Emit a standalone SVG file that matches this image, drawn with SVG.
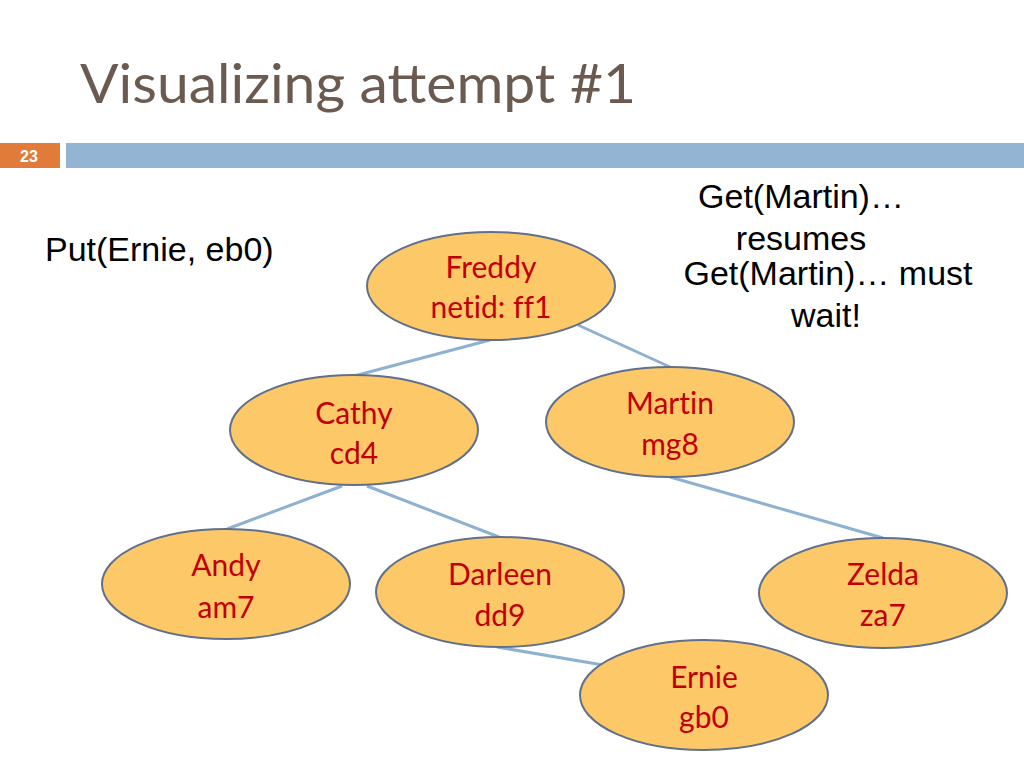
<svg xmlns="http://www.w3.org/2000/svg" width="1024" height="768" viewBox="0 0 1024 768">
<style>
.node ellipse{fill:#FDC968;stroke:#60708A;stroke-width:2}
.node text{font-family:Lato,"Noto Sans",sans-serif;font-size:30px;fill:#C00000;text-anchor:middle;font-variant-ligatures:none}
.edge{stroke:#8FB1D0;stroke-width:3;fill:none}
.note{font-family:"Liberation Sans",Arial,sans-serif;font-size:34px;fill:#000;text-anchor:middle}
</style>
<rect width="1024" height="768" fill="#fff"/>
<text x="80" y="103" font-family="Lato,'Noto Sans',sans-serif" font-size="54" fill="#6B5A4F" textLength="556" lengthAdjust="spacingAndGlyphs">Visualizing attempt #1</text>
<rect x="0" y="143" width="60" height="25" fill="#E07B39"/>
<rect x="66" y="143" width="958" height="25" fill="#93B5D3"/>
<text x="29" y="162" font-family="'Liberation Sans',Arial,sans-serif" font-size="16" font-weight="bold" fill="#fff" text-anchor="middle">23</text>
<g id="connectors">
<line class="edge" x1="490" y1="340" x2="354" y2="376"/>
<line class="edge" x1="578" y1="325" x2="670" y2="367"/>
<line class="edge" x1="342" y1="486" x2="227" y2="529"/>
<line class="edge" x1="367" y1="486" x2="499" y2="537"/>
<line class="edge" x1="670" y1="477" x2="883" y2="538"/>
<line class="edge" x1="497" y1="647" x2="603" y2="665"/>
</g>
<g id="freddy" class="node"><ellipse cx="491" cy="286" rx="124" ry="54"/><text x="491" y="278">Freddy</text><text x="491" y="318">netid: ff1</text></g>
<g id="cathy" class="node"><ellipse cx="354" cy="430" rx="124" ry="55"/><text x="354" y="424">Cathy</text><text x="354" y="464">cd4</text></g>
<g id="martin" class="node"><ellipse cx="670" cy="422" rx="124" ry="55"/><text x="670" y="414">Martin</text><text x="670" y="455">mg8</text></g>
<g id="andy" class="node"><ellipse cx="226" cy="584" rx="124" ry="55"/><text x="226" y="576">Andy</text><text x="226" y="618">am7</text></g>
<g id="darleen" class="node"><ellipse cx="500" cy="592" rx="124" ry="55"/><text x="500" y="585">Darleen</text><text x="500" y="626">dd9</text></g>
<g id="zelda" class="node"><ellipse cx="883" cy="593" rx="124" ry="55"/><text x="883" y="585">Zelda</text><text x="883" y="626">za7</text></g>
<g id="ernie" class="node"><ellipse cx="704" cy="695" rx="124" ry="55"/><text x="704" y="688">Ernie</text><text x="704" y="728">gb0</text></g>
<text x="45" y="261" font-family="'Liberation Sans',Arial,sans-serif" font-size="34" fill="#000">Put(Ernie, eb0)</text>
<text class="note" x="801" y="208">Get(Martin)…</text>
<text class="note" x="801" y="250">resumes</text>
<text class="note" x="828" y="285">Get(Martin)… must</text>
<text class="note" x="826" y="327">wait!</text>
</svg>
